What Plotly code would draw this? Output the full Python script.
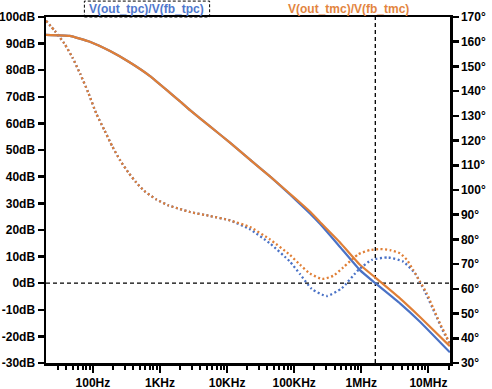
import plotly.graph_objects as go

# ---------------- data ----------------
mag_freq = [20, 45, 90, 180, 357, 710, 1410, 1990, 2800, 5560, 11040, 21930,
            43550, 86500, 121900, 171800, 242100, 482000, 955000, 1618000,
            3776000, 7499000, 20890000]
mag_tmc = [93.3, 92.9, 90.7, 87.2, 82.9, 77.8, 71.5, 68.3, 65.0, 58.9, 52.8, 46.4,
           40.1, 33.6, 30.3, 26.9, 23.0, 15.3, 6.9, 2.1,
           -5.7, -12.7, -23.7]
mag_tpc = [93.3, 92.9, 90.7, 87.2, 82.9, 77.8, 71.5, 68.3, 65.0, 58.9, 52.8, 46.4,
           40.1, 33.3, 29.8, 26.2, 22.3, 13.6, 4.9, 0.0,
           -7.6, -14.5, -26.0]

ph_freq_tmc = [20, 27.2, 37.5, 49.3, 64.9, 85.3, 112, 148, 195, 256, 337, 444, 583,
               881, 1330, 1990, 2800, 5560, 11040, 21930, 43550, 86500, 121900,
               171800, 262400, 382800, 539500, 901600, 1349000, 1901000, 2679000,
               3776000, 4742000, 5957000, 7499000, 9441000, 11860000, 14890000,
               18710000, 20890000]
ph_tmc = [168.5, 164.3, 159.3, 153.7, 146.9, 139.4, 131.0, 124.3, 117.6, 111.9, 107.1,
          103.0, 99.6, 96.2, 93.8, 92.3, 91.1, 89.5, 87.7, 85.0, 80.0, 73.7, 69.8,
          66.2, 64.0, 65.3, 68.7, 74.0, 75.7, 76.1, 75.7,
          74.4, 71.9, 67.6, 62.9, 58.2, 52.1, 46.0,
          40.6, 37.3]

ph_freq_tpc = [20, 27.2, 37.5, 49.3, 64.9, 85.3, 112, 148, 195, 256, 337, 444, 583,
               881, 1330, 1990, 2800, 5560, 11040, 21930, 43550, 86500, 121900,
               182400, 304800, 510500, 901600, 1429000, 2523000, 4227000, 6310000,
               8913000, 12590000, 17660000, 20890000]
ph_tpc = [168.5, 164.3, 159.3, 153.7, 146.9, 139.4, 131.0, 124.3, 117.6, 111.9, 107.1,
          103.0, 99.6, 96.2, 93.8, 92.3, 91.1, 89.5, 87.7, 84.1, 78.4, 71.0, 66.0,
          60.0, 57.1, 60.2, 67.6, 71.7, 72.7, 71.0, 66.3,
          58.8, 50.0, 41.3, 38.0]

cursor_freq = 1618000
cursor_db = 0

x_ticks = [100, 1e3, 1e4, 1e5, 1e6, 1e7]
x_labels = ["100Hz", "1KHz", "10KHz", "100KHz", "1MHz", "10MHz"]
db_ticks = list(range(-30, 101, 10))
db_labels = [f"{v}dB" for v in db_ticks]
ph_ticks = list(range(30, 171, 10))
ph_labels = [f"{v}°" for v in ph_ticks]

name_tpc = "V(out_tpc)/V(fb_tpc)"
name_tmc = "V(out_tmc)/V(fb_tmc)"

# ---------------- styling ----------------
BLUE = "#4A72C6"
ORANGE = "#E07F36"
FONT = "Arial, 'Liberation Sans', sans-serif"
x_min, x_max = 20, 21e6

fig = go.Figure()

# cursor cross-hair
fig.add_trace(go.Scatter(x=[x_min, x_max], y=[cursor_db, cursor_db], mode="lines",
                         line=dict(color="black", width=1.3, dash="4px,3px"),
                         hoverinfo="skip", yaxis="y"))
fig.add_trace(go.Scatter(x=[cursor_freq, cursor_freq], y=[-30, 100], mode="lines",
                         line=dict(color="black", width=1.3, dash="4px,3px"),
                         hoverinfo="skip", yaxis="y"))

fig.add_trace(go.Scatter(x=ph_freq_tpc, y=ph_tpc, mode="lines", name=name_tpc + " phase",
                         line=dict(color=BLUE, width=2.3, dash="2px,2.5px", shape="spline",
                                   smoothing=0.5),
                         yaxis="y2"))
fig.add_trace(go.Scatter(x=mag_freq, y=mag_tpc, mode="lines", name=name_tpc,
                         line=dict(color=BLUE, width=2.2, shape="spline", smoothing=0.4),
                         yaxis="y"))
fig.add_trace(go.Scatter(x=ph_freq_tmc, y=ph_tmc, mode="lines", name=name_tmc + " phase",
                         line=dict(color=ORANGE, width=2.3, dash="2px,2.5px", shape="spline",
                                   smoothing=0.5),
                         yaxis="y2"))
fig.add_trace(go.Scatter(x=mag_freq, y=mag_tmc, mode="lines", name=name_tmc,
                         line=dict(color=ORANGE, width=2.2, shape="spline", smoothing=0.4),
                         yaxis="y"))

tickfont = dict(family=FONT, size=12, color="black", weight="bold")

minor_vals = [m * 10 ** e for e in range(1, 8) for m in range(2, 10)
              if x_min < m * 10 ** e < x_max]

fig.update_layout(
    width=492, height=389,
    margin=dict(l=46, r=42, t=17, b=26, autoexpand=False),
    paper_bgcolor="white", plot_bgcolor="white",
    showlegend=False, hovermode=False,
    font=dict(family=FONT, size=12, color="black"),
    xaxis=dict(type="log", range=[1.30103, 7.32222], automargin=False,
               tickmode="array", tickvals=x_ticks, ticktext=x_labels,
               ticks="outside", ticklen=7, tickwidth=2, tickcolor="black",
               showline=True, linecolor="black", linewidth=2.5, mirror=True,
               showgrid=False, zeroline=False, tickfont=tickfont,
               minor=dict(tickmode="array", tickvals=minor_vals, ticks="outside",
                          ticklen=4, tickwidth=2, tickcolor="black", showgrid=False)),
    yaxis=dict(range=[-30, 100], tickmode="array", tickvals=db_ticks, ticktext=db_labels,
               automargin=False,
               ticks="outside", ticklen=6, tickwidth=2.5, tickcolor="black",
               showline=True, linecolor="black", linewidth=2.5,
               showgrid=False, zeroline=False, tickfont=tickfont),
    yaxis2=dict(range=[30, 170], overlaying="y", side="right", automargin=False,
                tickmode="array", tickvals=ph_ticks, ticktext=ph_labels,
                ticks="outside", ticklen=6, tickwidth=2.5, tickcolor="black",
                showline=True, linecolor="black", linewidth=2.5,
                showgrid=False, zeroline=False, tickfont=tickfont),
    annotations=[
        dict(text=name_tpc, xref="paper", yref="paper", x=0.249, y=1.024,
             xanchor="center", yanchor="middle", showarrow=False,
             font=dict(family=FONT, size=12, color="#5078CC", weight="bold")),
        dict(text=name_tmc, xref="paper", yref="paper", x=0.748, y=1.024,
             xanchor="center", yanchor="middle", showarrow=False,
             font=dict(family=FONT, size=12, color="#E3853F", weight="bold")),
    ],
    shapes=[
        dict(type="rect", xref="paper", yref="paper", x0=0.095, x1=0.405,
             y0=1.0, y1=1.046, line=dict(color="black", width=1, dash="3px,2px"),
             fillcolor="rgba(0,0,0,0)"),
    ],
)

# remove the default page margin so the figure sits at the window's corner
fig.write_html("out.html",
               config={"displayModeBar": False, "staticPlot": True},
               post_script="document.body.style.margin='0px';"
                           "document.body.style.overflow='hidden';")
